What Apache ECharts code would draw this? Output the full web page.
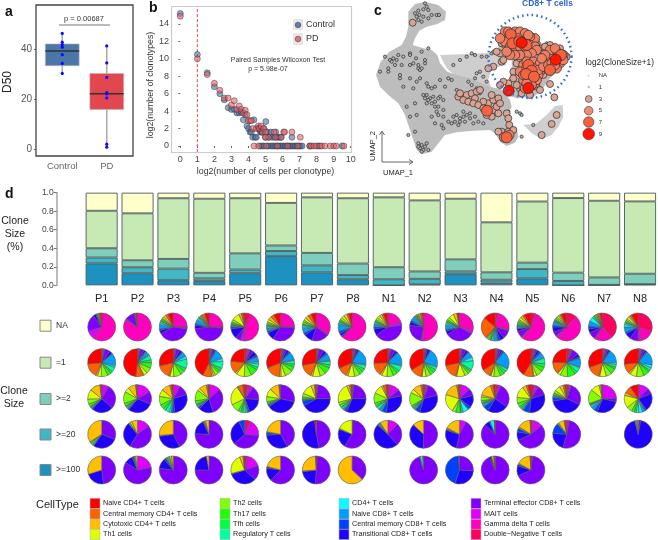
<!DOCTYPE html>
<html>
<head>
<meta charset="utf-8">
<script src="https://cdn.jsdelivr.net/npm/echarts@6/dist/echarts.min.js"></script>
<style>html,body{margin:0;padding:0;background:#fff}#c{width:658px;height:540px}</style>
</head>
<body>
<div id="c"></div>
<script>
// ---------- panel a ----------
const boxCats = ['Control', 'PD'];
const boxStats = [[30.5, 33.6, 39.5, 42.3, 46.5], [1, 16.1, 22.4, 30.5, 41.5]];
const boxPoints = [[0,46.5],[0,43],[0,42],[0,41],[0,38],[0,34.5],[0,30.5],
  [1,41.5],[1,34.7],[1,28.9],[1,22.8],[1,22.3],[1,20.7],[1,2.2],[1,1]];
// ---------- panel b ----------
const ctrlPts = [[0,15.2],[1,10.5],[1.58,8.4],[2,6.8],[2.32,6],[2.58,5.3],[2.81,4.4],[3,4.2],[3.17,4.2],[3.32,3.8],[3.46,3.8],[3.58,3.9],[3.7,3],[3.81,3.6],[3.91,2.3],[4,2],[4.09,1.6],[4.17,1.6],[4.25,1],[4.32,3],[4.39,1],[4.46,1],[4.58,2],[4.64,2],[4.7,1.6],[4.75,1.6],[4.81,1.6],[4.9,2],[5,1],[5.02,2.8],[5.1,1.6],[5.2,1],[5.3,1.6],[5.4,1],[5.55,1],[5.6,1.6],[5.7,1],[5.8,1],[5.9,1],[6.55,1],
 [4.7,0],[4.81,0],[4.9,0],[5.1,0],[5.2,0],[5.35,0],[5.45,0],[5.55,0],[5.65,0],[5.75,0],[5.85,0],[5.95,0],[6.05,0],[6.15,0],[6.25,0],[6.35,0],[6.45,0],[6.55,0],[6.65,0],[6.75,0],[6.85,0],[6.95,0],[7.05,0],[7.15,0],[7.6,0],[8.1,0],[9.5,0]];
const pdPts = [[0,14.9],[1,10],[1.58,8.2],[2,7.2],[2.32,6.4],[2.58,5.5],[2.81,5.5],[3,4.7],[3.17,5.2],[3.32,4.2],[3.46,4.6],[3.58,4.2],[3.7,3.8],[3.81,4.1],[3.91,3.6],[4,2.9],[4.09,2.9],[4.17,2.9],[4.25,2],[4.46,2],[4.58,2.3],[4.64,2],[4.75,2.3],[4.81,1.6],[4.9,2],[5,1.6],[5.17,1],[5.5,1.6],[5.6,1],[5.93,1],[6.07,1.6],[6.12,1.6],[6.55,1.6],[7.04,1],[5,1],
 [4.32,0],[4.6,0],[5.04,0],[5.7,0],[6.3,0],[6.9,0],[7.6,0],[7.7,0],[7.85,0],[8,0],[8.2,0],[8.3,0],[8.5,0],[8.8,0],[9,0],[9.15,0],[9.6,0]];
const cutoffLine = [[1,-0.7],[1,16]];
// ---------- panel c (read in a 894x525 picture scale) ----------
const blobMain = [[145,35],[165,12],[195,5],[235,15],[258,35],[255,60],[232,72],[200,80],[178,92],[165,115],[158,135],[190,145],[215,150],[232,165],[240,190],[262,215],[290,225],[330,235],[365,250],[395,262],[425,268],[450,300],[455,320],[440,350],[440,365],[470,385],[475,410],[465,428],[440,438],[420,425],[405,400],[390,390],[340,392],[290,397],[255,405],[235,430],[215,455],[185,463],[170,450],[160,420],[150,390],[135,345],[115,310],[85,285],[60,260],[48,225],[62,185],[88,155],[125,135],[138,110],[145,80]];
const blobCd8 = [[415,120],[440,90],[500,95],[545,130],[600,140],[628,165],[600,205],[570,235],[545,270],[520,292],[470,295],[440,285],[440,250],[455,215],[455,180],[430,170],[415,150]];
const blobBand = [[240,165],[300,163],[400,158],[420,170],[440,195],[395,205],[385,240],[395,265],[360,262],[300,240],[260,205]];
const blobRight = [[490,375],[530,370],[560,345],[585,318],[608,315],[610,350],[595,380],[575,405],[545,418],[515,400]];
const clone1 = [[175,32],[190,28],[178,45],[165,40],[205,30],[190,50],[175,60],[205,55],[230,45],[237,45],[215,45],[185,65],[170,50],[200,20],[195,10],
 [130,170],[110,180],[90,180],[105,195],[95,185],[150,160],[150,165],[205,145],[185,155],[168,175],[75,170],[60,215],[85,205],[120,225],[150,195],[175,205],[180,210],[120,235],[150,235],[170,245],[205,260],[215,265],[225,260],[130,260],[160,265],[200,285],[210,295],[225,305],[235,320],[215,310],[240,290],[250,300],[200,310],[230,335],[250,330],[140,320],[165,310],[170,345],[150,350],[265,235],[275,240],[290,270],[240,240],[255,260],[190,285],[195,295],[205,300],[235,295],[220,290],[225,320],[180,235],[185,205],[175,195],[85,215],[115,165],[100,175],[125,195],[160,190],[195,180],[195,190],[200,250],
 [280,350],[290,345],[300,355],[310,350],[320,345],[330,355],[300,365],[315,365],[330,340],[345,350],[285,365],[275,370],[295,375],[250,350],[265,365],[245,375],[250,385],[235,345],[215,350],[340,370],[310,335],[355,365],[370,370],[225,370],[165,395],[145,405],
 [175,430],[185,435],[195,440],[180,445],[190,450],[200,430],[185,455],[205,450],[175,440],
 [335,160],[345,165],[365,170],[380,170],[395,160],[320,170],[300,180],[280,195],[350,220],[360,215],[370,230],[380,245],[345,235],[325,245],[335,255],[350,265],[360,280],[385,200],[400,155],
 [430,95],[560,130],[600,150],[470,335],[480,340],[485,345],[445,335],[540,405],[570,370],[485,410],[520,375],[535,160],[475,270]];
const clone3 = [[158,68],[295,290],[320,285],[335,280],[350,275],[310,300],[325,305],[345,295],[360,270],[300,280],[340,310],[385,310],[400,300],[415,295],[395,285],[370,305],[355,315],[400,330],[415,340],[395,350],[380,345],[370,325],[410,320],[420,310],[440,340],[445,355],[448,375],[425,395],[445,395],[415,395],[460,390],[425,185],[445,160],[430,180],[400,200],[385,205],[420,160],[570,135],[583,292],[590,345],[545,405],[570,252],[575,372],
 [410,155],[425,130],[530,130],[540,145],[550,160],[555,140],[470,190],[460,215],[460,235],[445,250],[430,245],[420,255],[470,255],[485,280],[510,285],[530,260],[550,225],[540,270],[600,145],[620,170],[480,175]];
const clone5 = [[430,110],[445,120],[460,105],[475,105],[490,110],[505,120],[520,130],[440,135],[455,150],[470,150],[485,150],[500,150],[515,145],[525,115],[435,95],[450,100],
 [445,95],[465,95],[480,95],[495,100],[510,110],[435,125],[450,140],[465,140],[480,140],[495,140],[510,135],[525,140],[530,150],[515,160],[500,165],[480,165],[465,165],[450,165],[440,155],[460,120],[475,115],[490,125],[505,105],[420,115],
 [490,195],[510,190],[530,195],[545,210],[535,225],[510,240],[490,240],[480,215],[525,250],[495,265],[555,190],[570,180],[560,205],[600,190],[610,165],[575,165],[590,155],[555,180],[590,205],[432,412],[448,405],
 [500,185],[520,185],[540,190],[500,205],[520,205],[535,210],[490,225],[505,225],[530,240],[515,255],[500,250],[550,200],[565,195],[575,190],[585,195],[600,175],[610,180],[595,165],[570,150],[585,145],[555,165],[545,175]];
const clone7 = [[452,103],[457,130],[478,124],[500,135],[603,165],[505,195],[515,212],[498,222],[522,230],[570,210],[381,332],[440,412]];
const clone9 = [[485,128],[587,179],[446,272],[505,264]];
// ---------- panel d ----------
const samples = ['P1','P2','P3','P4','P5','P6','P7','P8','N1','N2','N3','N4','N5','N6','N7','N8'];
const sizeNA   = [.195,.223,.06,.065,.06,.11,.05,.06,.05,.083,.065,.32,.095,.058,.087,.094];
const sizeEq1  = [.405,.507,.655,.80,.595,.46,.60,.705,.755,.767,.655,.54,.66,.805,.828,.781];
const sizeGe2  = [.10,.075,.105,.06,.175,.06,.135,.125,.13,.08,.13,.08,.07,.09,.08,.113];
const sizeGe20 = [.063,.065,.125,.03,.04,.055,.075,.045,.065,.06,.03,.03,.10,.047,.002,.002];
const sizeGe100= [.237,.13,.055,.045,.13,.315,.14,.065,0,.01,.12,.03,.075,0,.003,.01];
const sizeNames = ['NA','=1','>=2','>=20','>=100'];
const sizeColors = ['#ffffcc','#c7e9b4','#7fcdbb','#41b6c4','#1d91c0'];
const cellTypes = ['Naive CD4+ T cells','Central memory CD4+ T cells','Cytotoxic CD4+ T cells','Th1 cells','Th2 cells','Th17 cells','Tfh cells','Regulatory T cells','CD4+ T cells','Naive CD8+ T cells','Central memory CD8+ T cells','Transitional CD8+ T cells','Terminal effector CD8+ T cells','MAIT cells','Gamma delta T cells','Double\u2212Negative T cells'];
const cellColors = ['#FF0000','#FF6000','#FFBF00','#DFFF00','#80FF00','#20FF00','#00FF40','#00FF9F','#00FFFF','#009FFF','#0040FF','#2000FF','#8000FF','#DF00FF','#FF00BF','#FF0060'];
// each slice list runs clockwise from 12 o'clock: the reverse of cellTypes
const pieNA = [[0,60,10,20,3,1,1,0,0,0,0,0,1,1,1,2],[0,83,2,11,1,0,0,0,0,0,0,0,0,0,1,2],[0,25,2,40,4,2,5,2,2,1,2,1,2,3,3,6],[0,25,1,47,4,2,5,2,1,1,1,1,1,1,3,5],[7,42,6,6,12,2,1,1,1,1,2,3,9,3,2,2],[0,25,1,33,9,2,3,1,2,1,2,2,3,4,4,8],[0,33,2,20,10,3,5,2,2,1,3,2,3,4,4,6],[0,62,0,2,3,3,8,1,2,1,2,3,3,4,2,4],[0,18,5,42,8,2,3,1,2,1,2,3,3,3,2,5],[0,50,3,24,4,2,5,1,1,1,1,1,1,2,2,2],[0,30,3,33,4,2,5,2,2,1,2,3,6,4,1,2],[3,25,2,10,5,3,4,2,2,1,2,2,1,1,25,14],[5,55,2,8,3,1,2,1,1,2,2,2,3,3,2,8],[12,50,2,5,6,2,4,1,1,1,2,2,2,2,2,6],[38,20,2,8,5,3,6,5,2,1,2,1,1,1,2,3],[30,17,3,10,7,2,6,3,2,1,2,2,3,2,2,8]];
const pieEq1 = [[1,1,1,6,3,1,13,2,5,2,4,7,4,2,15,24],[1,1,1,4,2,1,4,1,5,3,6,6,4,1,8,44],[1,1,1,4,3,1,5,3,10,3,5,8,4,1,15,26],[1,1,1,2,2,1,11,3,8,3,3,4,2,2,10,40],[3,2,1,4,5,2,6,2,4,3,8,8,9,2,14,22],[2,1,1,3,3,2,9,1,4,3,5,9,5,2,17,30],[1,1,1,5,3,2,7,1,4,3,7,6,8,2,14,25],[1,1,1,2,2,1,16,1,4,3,4,6,7,2,10,28],[1,1,1,5,3,1,14,1,6,3,5,7,6,2,14,24],[1,0,1,2,3,1,18,1,3,3,4,5,4,1,12,30],[1,1,1,4,3,1,6,4,10,2,3,4,9,1,16,26],[1,1,1,3,2,2,18,1,3,3,4,7,3,1,9,30],[3,1,1,2,3,2,6,1,6,4,5,7,3,1,11,39],[4,1,1,7,3,2,9,1,5,3,8,8,3,1,12,22],[1,2,1,2,2,1,14,2,3,2,6,6,7,1,14,28],[1,2,1,3,2,1,15,3,3,2,6,8,7,2,10,24]];
const pieGe2 = [[0,0,8,28,25,1,1,0,1,1,3,6,11,12,1,1],[0,0,15,13,26,1,1,1,1,1,3,12,5,8,1,1],[0,0,8,12,28,3,1,2,5,3,5,10,8,10,2,2],[0,1,12,30,16,2,1,1,1,1,4,12,3,8,2,1],[4,2,4,15,18,2,1,2,3,2,3,10,22,1,6,2],[0,0,0,28,36,2,1,0,0,1,2,6,9,11,1,1],[0,0,2,22,40,6,1,0,0,1,2,4,12,4,1,1],[1,0,1,22,30,3,1,1,2,1,3,3,22,3,2,1],[0,3,10,7,28,5,3,1,3,2,3,11,10,2,3,2],[2,1,2,14,30,5,1,1,1,1,2,14,4,9,2,1],[2,0,10,8,13,3,1,6,2,1,5,4,20,16,2,1],[3,0,3,26,22,6,2,1,1,1,2,4,2,14,3,2],[4,1,3,10,28,7,1,1,1,2,4,6,12,4,2,3],[2,1,2,25,38,4,1,0,1,1,2,3,6,4,2,2],[0,0,24,4,27,4,4,2,1,1,1,16,10,2,1,1],[0,1,11,6,20,2,3,4,3,2,3,6,14,3,8,9]];
const pieGe20 = [[0,0,0,30,28,0,0,0,1,1,2,1,1,33,0,0],[0,0,13,40,27,0,0,0,0,0,1,1,2,6,0,0],[0,0,0,42,30,1,0,0,0,0,0,0,0,26,0,0],[0,0,0,75,17,1,0,0,0,0,0,1,1,4,0,0],[6,0,17,32,26,6,0,0,0,0,0,0,0,0,0,0],[0,0,0,42,32,3,1,0,0,0,0,0,0,22,0,0],[0,0,0,47,51,0,0,0,0,0,0,0,0,0,0,2],[0,0,1,58,22,0,0,0,0,0,0,1,18,0,0,0],[0,0,12,25,47,1,1,1,1,0,0,0,0,9,0,0],[0,0,0,50,36,0,0,0,0,0,0,0,0,13,0,0],[0,0,8,45,26,1,1,0,0,0,0,0,1,17,0,0],[0,0,0,87,6,1,0,5,0,0,0,0,0,0,0,1],[0,4,10,54,10,4,0,0,0,0,0,1,1,15,0,1],[0,0,3,52,22,12,1,0,0,0,0,0,1,7,1,2],null,[0,0,1,2,93,0,0,1,1,0,0,0,1,1,0,0]];
const pieGe100 = [[0,0,0,48,22,0,0,0,0,0,0,0,0,30,0,0],[0,0,22,62,10,2,0,0,0,0,1,0,1,2,0,0],[0,0,0,77,12,2,1,1,0,0,2,1,2,2,0,0],[0,0,0,75,22,0,0,0,0,0,0,0,0,3,0,0],[3,0,17,17,33,1,0,0,0,0,0,0,23,4,1,1],[0,0,0,62,15,2,0,0,0,0,0,0,0,21,0,0],[0,0,1,50,22,1,0,0,0,0,0,0,0,25,0,1],[0,0,0,37,0,0,0,0,0,0,0,0,0,63,0,0],null,[0,0,0,95,1,0,0,3,0,0,0,0,0,0,0,1],[0,0,0,26,29,44,0,0,0,0,0,0,0,0,0,1],[0,0,0,93,2,1,0,0,0,0,0,0,2,1,0,1],[2,0,0,66,12,2,0,0,0,0,0,0,1,16,0,1],null,null,null];
const pieRows = [pieNA, pieEq1, pieGe2, pieGe20, pieGe100];

const FONT = '"Liberation Sans", Arial, sans-serif';
const chart = echarts.init(document.getElementById('c'), null, {renderer: 'canvas'});

function T(text, x, y, size, fill, opt) {
  opt = opt || {};
  return {type: 'text', x, y, rotation: opt.rot || 0, z: 50, silent: true,
    style: {text, fontSize: size, fontFamily: FONT, fontWeight: opt.bold ? 'bold' : 'normal', fill,
      align: opt.align || 'left', verticalAlign: 'middle'}};
}
function R(x, y, w, h, fill, stroke, lw) {
  return {type: 'rect', shape: {x, y, width: w, height: h}, z: 1, silent: true, style: {fill, stroke, lineWidth: lw || 1}};
}
function Ln(x1, y1, x2, y2, stroke, lw) {
  return {type: 'line', shape: {x1, y1, x2, y2}, z: 50, silent: true, style: {stroke, lineWidth: lw || 1}};
}

const gfx = [
  T('a', 5, 12, 14, '#111', {bold: true}), T('b', 149, 8, 14, '#111', {bold: true}),
  T('c', 374, 11, 14, '#111', {bold: true}), T('d', 5, 194, 14, '#111', {bold: true}),
  R(36, 5, 97, 151, 'transparent', '#444', 1.3),
  T('D50', 8, 82, 12, '#222', {rot: Math.PI / 2, align: 'center'}),
  T('p = 0.00687', 84, 19, 7.5, '#333', {align: 'center'}),
  Ln(59, 25, 110, 25, '#555', 0.8),
  R(171.5, 6.5, 180, 146, 'transparent', '#ccc', 1.2),
  R(293, 19, 10, 11, '#e6e6e6', 'transparent'), R(293, 33, 10, 12, '#e6e6e6', 'transparent'),
  T('Control', 306, 25, 9, '#333'), T('PD', 306, 39, 9, '#333'),
  T('Paired Samples Wilcoxon Test', 278, 60, 7, '#333', {align: 'center'}),
  T('p = 5.98e-07', 268, 69, 7, '#333', {align: 'center'}),
  // panel c decorations
  {type: 'circle', shape: {cx: 530, cy: 56.5, r: 41.5}, z: 40, silent: true,
    style: {fill: 'transparent', stroke: '#3b6fd6', lineWidth: 2.5, lineDash: [1.6, 3.2]}},
  T('CD8+ T cells', 547.5, 3.8, 8.5, '#2d62d8', {bold: true, align: 'center'}),
  T('log2(CloneSize+1)', 585.5, 63, 8.3, '#222'),
  Ln(382, 162, 382, 132, '#444', 0.8), Ln(382, 162, 412, 162, '#444', 0.8),
  {type: 'polyline', shape: {points: [[379.5, 135], [382, 131], [384.5, 135]]}, z: 50, silent: true, style: {fill: 'transparent', stroke: '#444', lineWidth: 0.8}},
  {type: 'polyline', shape: {points: [[409, 159.5], [413, 162], [409, 164.5]]}, z: 50, silent: true, style: {fill: 'transparent', stroke: '#444', lineWidth: 0.8}},
  T('UMAP_2', 373, 146, 7.5, '#222', {rot: Math.PI / 2, align: 'center'}),
  T('UMAP_1', 398, 173, 7.5, '#222', {align: 'center'}),
  // panel d labels
  T('Clone', 15, 221, 10.5, '#222', {align: 'center'}), T('Size', 15, 234, 10.5, '#222', {align: 'center'}), T('(%)', 15, 247, 10.5, '#222', {align: 'center'}),
  T('Clone', 14, 391, 10.5, '#222', {align: 'center'}), T('Size', 14, 404, 10.5, '#222', {align: 'center'}),
  T('CellType', 36, 505, 11, '#222')
];
// clone size legend of panel c
const cLegend = [['NA', 75.7, 1.2, '#ddd', null], ['1', 87, 1.2, '#bbb', null], ['3', 99, 3.4, '#d8a595', '#333'], ['5', 110.7, 4.3, '#ee8b72', '#333'], ['7', 122, 5.2, '#f4623f', '#333'], ['9', 134, 5.8, '#ff1400', '#333']];
cLegend.forEach(l => {
  gfx.push({type: 'circle', shape: {cx: 588.7, cy: l[1], r: l[2]}, z: 50, silent: true, style: {fill: l[3], stroke: l[4] || 'transparent', lineWidth: 0.6}});
  gfx.push(T(l[0], 598.7, l[1], 6, '#333'));
});
// clone size swatches of panel d
[325.7, 362.7, 399, 434.5, 470].forEach((y, i) => {
  gfx.push(R(40, y - 5.5, 11, 11, sizeColors[i], '#888', 1));
  gfx.push(T(sizeNames[i], 56, y, 8.5, '#333'));
});
// cell type legend
const legCols = [90, 220, 339, 471], legRows = [503.5, 514, 524.5, 534.5];
cellTypes.forEach((n, i) => {
  const c = Math.floor(i / 4), r = i % 4;
  gfx.push(R(legCols[c], legRows[r] - 5.2, 10, 10.4, cellColors[i], '#bbb', 0.6));
  gfx.push(T(n, legCols[c] + 13, legRows[r], 7.2, '#222'));
});

const xAxes = [
  {gridIndex: 0, type: 'category', data: boxCats, offset: 6.3, axisLine: {show: false}, axisTick: {alignWithLabel: true, length: 2, lineStyle: {color: '#666'}}, axisLabel: {color: '#666', fontSize: 9.5, margin: 5}, splitLine: {show: false}},
  {gridIndex: 1, type: 'value', min: 0, max: 10, interval: 1, offset: 6, axisLine: {show: false}, axisTick: {length: 2, lineStyle: {color: '#666'}}, axisLabel: {color: '#444', fontSize: 9, margin: 3}, splitLine: {show: false},
    name: 'log2(number of cells per clonotype)', nameLocation: 'middle', nameGap: 15, nameTextStyle: {color: '#333', fontSize: 8.8}},
  {gridIndex: 2, type: 'value', min: 0, max: 894, show: false, splitLine: {show: false}},
  {gridIndex: 3, type: 'category', data: samples, axisLine: {show: false}, axisTick: {show: false}, axisLabel: {color: '#222', fontSize: 11, margin: 8}}
];
const yAxes = [
  {gridIndex: 0, type: 'value', min: 0, max: 40, interval: 20, offset: 4, axisLine: {show: false}, axisTick: {show: true, length: 2, lineStyle: {color: '#666'}}, axisLabel: {color: '#555', fontSize: 10, margin: 4}, splitLine: {show: false}},
  {gridIndex: 1, type: 'value', min: 0, max: 14, interval: 2, offset: 8.3, axisLine: {show: false}, axisTick: {show: true, length: 2, lineStyle: {color: '#666'}}, axisLabel: {color: '#444', fontSize: 9, margin: 3}, splitLine: {show: false},
    name: 'log2(number of clonotypes)', nameLocation: 'middle', nameRotate: 90, nameGap: 15, nameTextStyle: {color: '#333', fontSize: 8.8}},
  {gridIndex: 2, type: 'value', min: 0, max: 525, inverse: true, show: false, splitLine: {show: false}},
  {gridIndex: 3, type: 'value', min: 0, max: 1, interval: 0.2, offset: 27, axisLine: {show: true, lineStyle: {color: '#bbb', width: 2}}, axisTick: {show: true, length: 3, lineStyle: {color: '#777'}}, axisLabel: {color: '#444', fontSize: 8.5, margin: 3, formatter: v => v.toFixed(1)}, splitLine: {show: false}}
];
const grids = [
  {left: 40, width: 89, top: 49.7, height: 100},
  {left: 180.3, width: 170.4, top: 24, height: 122},
  {left: 360, width: 298, top: 0, height: 175},
  {left: 83.7, width: 574.9, top: 192.7, height: 92.6}
];

const series = [];
// a
series.push({type: 'custom', xAxisIndex: 0, yAxisIndex: 0, clip: false, z: 3, silent: true,
  data: boxStats.map((s, i) => [i].concat(s)), encode: {x: 0, y: [1, 2, 3, 4, 5]},
  renderItem(params, api) {
    const x = api.value(0), w = api.size([1, 0])[0] * 0.76;
    const P = v => api.coord([x, v]);
    const col = params.dataIndex === 0 ? '#4a76a8' : '#e2474f';
    const lo = P(api.value(1)), q1 = P(api.value(2)), md = P(api.value(3)), q3 = P(api.value(4)), hi = P(api.value(5));
    return {type: 'group', children: [
      {type: 'line', shape: {x1: lo[0], y1: lo[1], x2: hi[0], y2: hi[1]}, style: {stroke: '#aaa', lineWidth: 1.5}},
      {type: 'rect', shape: {x: q3[0] - w / 2, y: q3[1], width: w, height: q1[1] - q3[1]}, style: {fill: col, stroke: '#bbb', lineWidth: 0.6}},
      {type: 'line', shape: {x1: md[0] - w / 2, y1: md[1], x2: md[0] + w / 2, y2: md[1]}, style: {stroke: '#333', lineWidth: 1.5}}
    ]};
  }});
series.push({type: 'scatter', xAxisIndex: 0, yAxisIndex: 0, clip: false, z: 5, silent: true, data: boxPoints, symbolSize: 3.2, itemStyle: {color: '#0a0aff', opacity: 1}});
// b
series.push({type: 'line', xAxisIndex: 1, yAxisIndex: 1, clip: false, silent: true, data: cutoffLine, symbol: 'none', lineStyle: {color: '#d9333a', type: [3, 2], width: 0.9}, z: 2});
series.push({type: 'scatter', name: 'Control', xAxisIndex: 1, yAxisIndex: 1, clip: false, silent: true, z: 3, data: ctrlPts, symbolSize: 6, itemStyle: {color: 'rgba(70,110,165,0.75)', borderColor: '#333', borderWidth: 0.6}});
series.push({type: 'scatter', name: 'PD', xAxisIndex: 1, yAxisIndex: 1, clip: false, silent: true, z: 4, data: pdPts, symbolSize: 6, itemStyle: {color: 'rgba(232,90,100,0.72)', borderColor: '#333', borderWidth: 0.6}});
gfx.push({type: 'circle', shape: {cx: 298, cy: 25, r: 2.8}, z: 50, silent: true, style: {fill: 'rgba(70,110,165,0.85)', stroke: '#333', lineWidth: 0.5}});
gfx.push({type: 'circle', shape: {cx: 298, cy: 39, r: 2.8}, z: 50, silent: true, style: {fill: 'rgba(232,90,100,0.85)', stroke: '#333', lineWidth: 0.5}});
// c
const blobs = [{p: blobBand, c: '#cecece'}, {p: blobMain, c: '#bdbdbd'}, {p: blobCd8, c: '#bdbdbd'}, {p: blobRight, c: '#cfcfcf'}];
series.push({type: 'custom', xAxisIndex: 2, yAxisIndex: 2, clip: false, z: 1, silent: true,
  data: blobs.map((b, i) => [b.p[0][0], b.p[0][1], i]), encode: {x: 0, y: 1},
  renderItem(params, api) {
    const b = blobs[params.dataIndex];
    return {type: 'polygon', shape: {points: b.p.map(q => api.coord(q))}, style: {fill: b.c}};
  }});
[[clone1, 3.2, '#b5b5b5'], [clone3, 7, '#d8a595'], [clone5, 9.5, '#ee7f62'], [clone7, 11, '#f4623f'], [clone9, 11, '#ff1400']].forEach((c, i) => {
  series.push({type: 'scatter', xAxisIndex: 2, yAxisIndex: 2, clip: false, silent: true, z: 5 + i, data: c[0], symbolSize: c[1],
    itemStyle: {color: c[2], borderColor: '#2a2a2a', borderWidth: 0.7, opacity: 1}});
});
// d bars
[[sizeGe100, 4], [sizeGe20, 3], [sizeGe2, 2], [sizeEq1, 1], [sizeNA, 0]].forEach(b => {
  series.push({type: 'bar', name: sizeNames[b[1]], xAxisIndex: 3, yAxisIndex: 3, stack: 'size', barWidth: 32, silent: true, data: b[0],
    itemStyle: {color: sizeColors[b[1]], borderColor: '#4a5a58', borderWidth: 0.9}});
});
// d pies
const pieY = [327, 362.7, 398.7, 434.3, 470];
pieRows.forEach((row, r) => row.forEach((vals, c) => {
  if (!vals) return;
  const data = [];
  vals.forEach((v, k) => {
    if (v > 0) {
      const idx = 15 - k;
      data.push({name: cellTypes[idx], value: v, itemStyle: {color: cellColors[idx]}});
    }
  });
  series.push({type: 'pie', center: [101.7 + 35.77 * c, pieY[r]], radius: [0, 14], startAngle: 90, clockwise: true, silent: true, animation: false,
    label: {show: false}, labelLine: {show: false}, itemStyle: {borderColor: '#5a5a5a', borderWidth: 0.6}, data});
}));

chart.setOption({
  animation: false, backgroundColor: '#fff',
  textStyle: {fontFamily: FONT},
  tooltip: {show: false},
  grid: grids, xAxis: xAxes, yAxis: yAxes, series, graphic: {elements: gfx}
});
</script>
</body>
</html>
